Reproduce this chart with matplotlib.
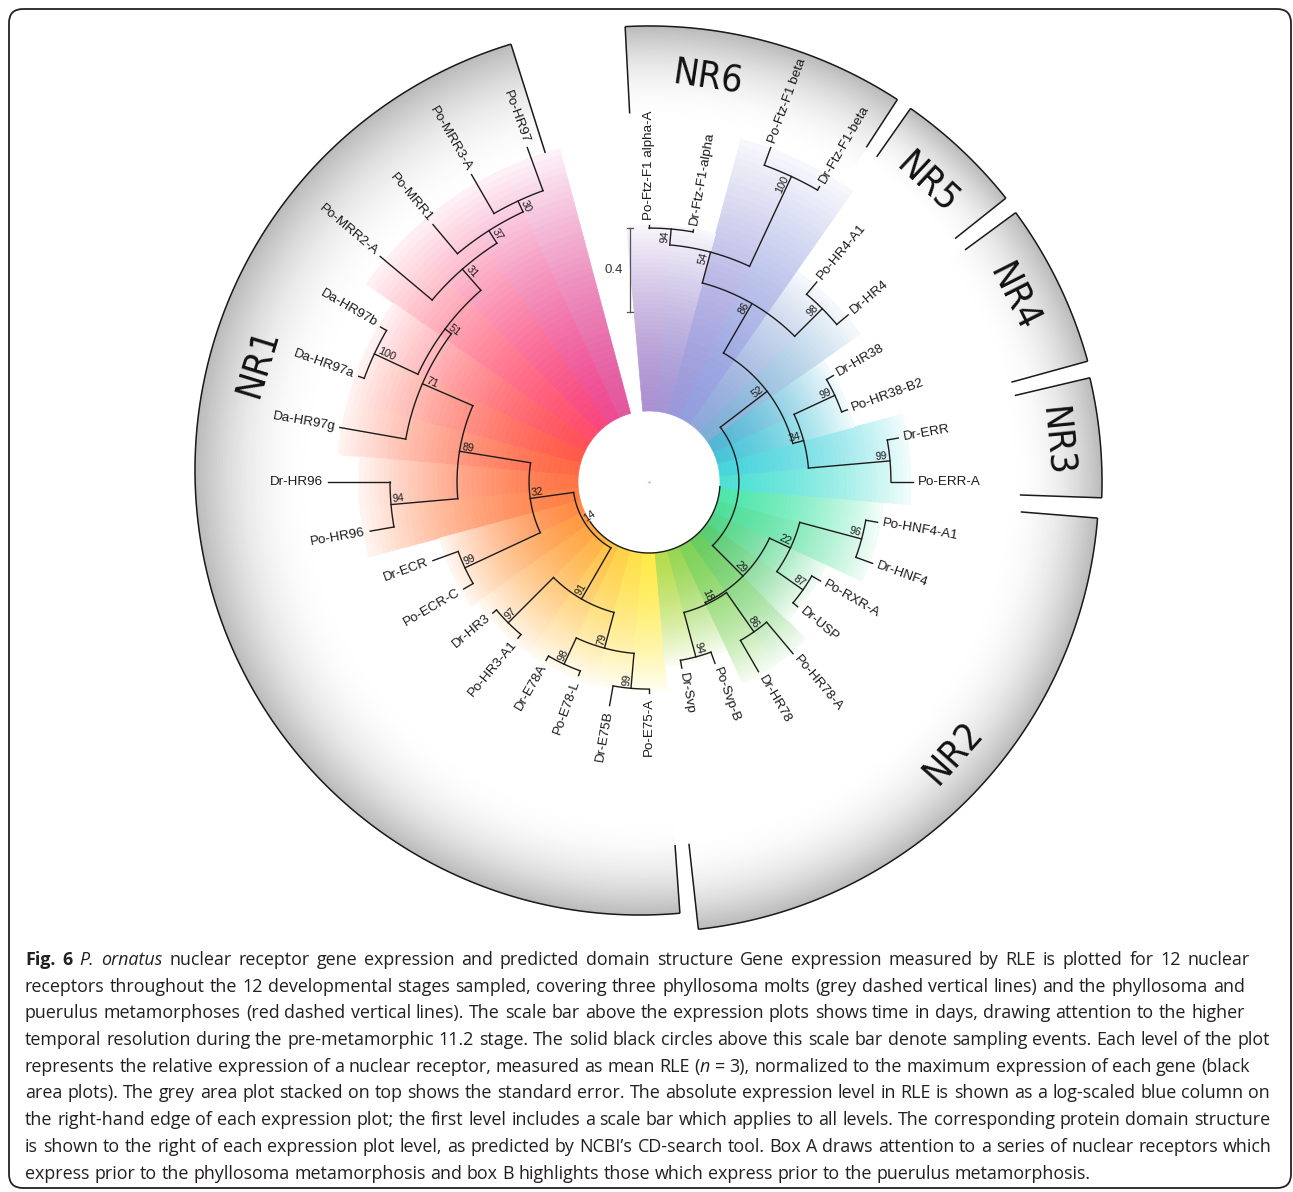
import numpy as np
import matplotlib
matplotlib.use("Agg")
import matplotlib.pyplot as plt
from matplotlib.collections import PolyCollection, LineCollection
from matplotlib.patches import FancyBboxPatch
from matplotlib.colors import to_rgb
from matplotlib import font_manager as fm

# ---------------- data ----------------
leaf_names = ["Po-HR97", "Po-MRR3-A", "Po-MRR1", "Po-MRR2-A", "Da-HR97b", "Da-HR97a", "Da-HR97g",
              "Dr-HR96", "Po-HR96", "Dr-ECR", "Po-ECR-C", "Dr-HR3", "Po-HR3-A1", "Dr-E78A", "Po-E78-L",
              "Dr-E75B", "Po-E75-A", "Dr-Svp", "Po-Svp-B", "Dr-HR78", "Po-HR78-A", "Dr-USP", "Po-RXR-A",
              "Dr-HNF4", "Po-HNF4-A1", "Po-ERR-A", "Dr-ERR", "Po-HR38-B2", "Dr-HR38", "Dr-HR4", "Po-HR4-A1",
              "Dr-Ftz-F1-beta", "Po-Ftz-F1 beta", "Dr-Ftz-F1-alpha", "Po-Ftz-F1 alpha-A"]
# distance from root (substitutions / site)
leaf_depth = [1.357, 1.352, 1.262, 1.333, 1.138, 1.133, 1.157, 1.190, 1.010, 0.757, 0.681, 0.633,
              0.633, 0.643, 0.643, 0.743, 0.667, 0.562, 0.581, 0.705, 0.729, 0.586, 0.605, 0.795,
              0.767, 0.919, 0.867, 0.667, 0.676, 0.900, 0.905, 1.286, 1.357, 0.881, 0.886]
leaf_colors = ["#e4579e", "#ee4a90", "#f8477e", "#ff4d6c", "#ff5058", "#ff5a4a", "#ff6845",
               "#ff7446", "#ff7d44", "#ff8a42", "#ff9840", "#ffa542", "#ffb244", "#ffc246",
               "#ffd248", "#ffe04a", "#ffea48", "#b4dc4c", "#98d650", "#7ed256", "#68cc5e",
               "#58cc72", "#52d688", "#4edf9a", "#4ee6aa", "#4ee0d4", "#48d4dc", "#48c4d8",
               "#52b6d6", "#7eaed6", "#8ea8da", "#929ede", "#9a98da", "#a494d4", "#ac90d0"]

node_names = ["A", "B", "C", "D", "E", "F", "H", "G", "J", "I", "M", "O", "P", "N", "L", "K",
              "Svp", "HR78", "N18", "USP", "HNF", "N22", "R", "ERR", "HR38", "T", "HR4",
              "beta", "alpha", "N54", "U", "S", "Q", "root"]
node_children = [("Po-HR97", "Po-MRR3-A"), ("A", "Po-MRR1"), ("B", "Po-MRR2-A"),
                 ("Da-HR97b", "Da-HR97a"), ("C", "D"), ("E", "Da-HR97g"), ("Dr-HR96", "Po-HR96"),
                 ("F", "H"), ("Dr-ECR", "Po-ECR-C"), ("G", "J"), ("Dr-HR3", "Po-HR3-A1"),
                 ("Dr-E78A", "Po-E78-L"), ("Dr-E75B", "Po-E75-A"), ("O", "P"), ("M", "N"), ("I", "L"),
                 ("Dr-Svp", "Po-Svp-B"), ("Dr-HR78", "Po-HR78-A"), ("Svp", "HR78"),
                 ("Dr-USP", "Po-RXR-A"), ("Dr-HNF4", "Po-HNF4-A1"), ("USP", "HNF"), ("N18", "N22"),
                 ("Po-ERR-A", "Dr-ERR"), ("Po-HR38-B2", "Dr-HR38"), ("ERR", "HR38"),
                 ("Dr-HR4", "Po-HR4-A1"), ("Dr-Ftz-F1-beta", "Po-Ftz-F1 beta"),
                 ("Dr-Ftz-F1-alpha", "Po-Ftz-F1 alpha-A"), ("beta", "alpha"), ("HR4", "N54"),
                 ("T", "U"), ("R", "S"), ("K", "Q")]
node_depth = [1.138, 1.081, 1.010, 1.105, 0.876, 0.838, 0.895, 0.576, 0.629, 0.233, 0.610, 0.619,
              0.648, 0.481, 0.305, 0.024, 0.524, 0.533, 0.305, 0.557, 0.710, 0.405, 0.295, 0.814,
              0.638, 0.424, 0.829, 1.267, 0.871, 0.795, 0.643, 0.371, 0.090, 0.0]
node_support = [30, 37, 31, 100, 51, 71, 94, 89, 99, 32, 97, 98, 99, 79, 91, 14, 94, 86, 18, 87,
                96, 22, 29, 99, 99, 34, 98, 100, 94, 54, 86, 52, None, None]

# coloured ranges: (first leaf, last leaf, outer depth)
range_first = [0, 4, 7, 9, 11, 17, 19, 21, 23, 25, 27, 29, 31, 33]
range_last = [3, 6, 8, 10, 16, 18, 20, 22, 24, 26, 28, 30, 32, 34]
range_depth = [1.305, 1.148, 1.043, 0.695, 0.657, 0.543, 0.719, 0.595, 0.781, 0.910, 0.676, 0.890,
               1.352, 0.886]

# clade boxes
clade_names = ["NR1", "NR2", "NR3", "NR4", "NR5", "NR6"]
clade_start = [107.5, 276.3, 358.0, 375.4, 398.5, 417.0]
clade_end = [274.1, 355.4, 373.3, 396.3, 415.0, 453.0]
clade_in_start = [1.305, 1.395, 1.429, 1.452, 1.524, 1.562]
clade_in_end = [1.395, 1.438, 1.452, 1.529, 1.552, 1.419]
clade_label_angle = [163.0, 318.3, 5.7, 26.8, 47.0, 81.7]

scale_value = 0.4

caption_lines = [
    "**Fig. 6** *P. ornatus* nuclear receptor gene expression and predicted domain structure Gene expression measured by RLE is plotted for 12 nuclear",
    "receptors throughout the 12 developmental stages sampled, covering three phyllosoma molts (grey dashed vertical lines) and the phyllosoma and",
    "puerulus metamorphoses (red dashed vertical lines). The scale bar above the expression plots shows time in days, drawing attention to the higher",
    "temporal resolution during the pre-metamorphic 11.2 stage. The solid black circles above this scale bar denote sampling events. Each level of the plot",
    "represents the relative expression of a nuclear receptor, measured as mean RLE (*n* = 3), normalized to the maximum expression of each gene (black",
    "area plots). The grey area plot stacked on top shows the standard error. The absolute expression level in RLE is shown as a log-scaled blue column on",
    "the right-hand edge of each expression plot; the first level includes a scale bar which applies to all levels. The corresponding protein domain structure",
    "is shown to the right of each expression plot level, as predicted by NCBI\u2019s CD-search tool. Box A draws attention to a series of nuclear receptors which",
    "express prior to the phyllosoma metamorphosis and box B highlights those which express prior to the puerulus metamorphosis.",
]

# ---------------- layout ----------------
W, H = 1293, 1192
CX, CY = 649.0, 482.0
R0 = 71.0
SCALE = 210.0
A0, DA = 110.0, 10.0
# outer arcs of the clade boxes: (centre x, centre y, radius) in pixels
CLADE_ARC = [(640.0, 470.0, 445.0), (CX, CY, 450.0), (CX, CY, 453.0), (CX, CY, 455.0),
             (CX, CY, 456.0), (CX, CY, 456.0)]
CAPTION_RIGHT = [1250, 1245, 1245, 1270, 1250, 1270, 1270, 1272, 1090]

_avail = {f.name for f in fm.fontManager.ttflist}
_cond_dejavu = any(f.name == "DejaVu Sans" and "condensed" in str(f.stretch) for f in fm.fontManager.ttflist)
if "Liberation Sans Narrow" in _avail:
    clade_font = dict(family="Liberation Sans Narrow", fontsize=30)
elif _cond_dejavu:
    clade_font = dict(family="DejaVu Sans", fontstretch="condensed", fontsize=27)
else:
    clade_font = dict(family="Roboto", fontsize=27)

fig = plt.figure(figsize=(W / 100, H / 100), dpi=100)
ax = fig.add_axes([0, 0, 1, 1])
ax.set_xlim(0, W)
ax.set_ylim(H, 0)
ax.axis("off")


def rad(d):
    return R0 + d * SCALE


def pol(r, th):
    t = np.deg2rad(th)
    return CX + r * np.cos(t), CY - r * np.sin(t)


def arc_pts(r, t1, t2, step=0.5):
    n = max(2, int(abs(t2 - t1) / step) + 1)
    th = np.linspace(t1, t2, n)
    x, y = pol(r, th)
    return np.column_stack([x, y])


def sector(r1, r2, t1, t2):
    a = arc_pts(r1, t1, t2)
    b = arc_pts(r2, t2, t1)
    return np.vstack([a, b])


def r_hit(th, ccx, ccy, R):
    t = np.deg2rad(th)
    ux, uy = np.cos(t), -np.sin(t)
    dx, dy = ccx - CX, ccy - CY
    b = ux * dx + uy * dy
    return b + np.sqrt(b * b - (dx * dx + dy * dy) + R * R)


# tree bookkeeping
depth = {}
angle = {}
for i, nm in enumerate(leaf_names):
    depth[nm] = leaf_depth[i]
    angle[nm] = A0 + DA * i
children = {}
for nm, ch, d in zip(node_names, node_children, node_depth):
    children[nm] = ch
    depth[nm] = d


def get_angle(nm):
    if nm in angle:
        return angle[nm]
    a = np.mean([get_angle(c) for c in children[nm]])
    angle[nm] = a
    return a


for nm in node_names:
    get_angle(nm)

# ---- grey clade boxes ----
polys, cols = [], []
box_lines = []
for k in range(6):
    ccx, ccy, R = CLADE_ARC[k]
    rin = rad(min(clade_in_start[k], clade_in_end[k])) - 12
    ths = np.linspace(clade_start[k], clade_end[k], int((clade_end[k] - clade_start[k]) / 1.0) + 2)
    routs = r_hit(ths, ccx, ccy, R)
    N = 40
    for a in range(len(ths) - 1):
        ta, tb = ths[a], ths[a + 1]
        ra, rb = routs[a], routs[a + 1]
        for j in range(N):
            f1, f2 = j / N, (j + 1) / N
            p = [pol(rin + (ra - rin) * f1, ta), pol(rin + (rb - rin) * f1, tb),
                 pol(rin + (rb - rin) * f2, tb), pol(rin + (ra - rin) * f2, ta)]
            t = (j + 0.5) / N
            g = 1 - 0.27 * t ** 2.2
            polys.append(np.array(p))
            cols.append((g, g, g))
    thf = np.linspace(clade_start[k], clade_end[k], 400)
    xs, ys = pol(r_hit(thf, ccx, ccy, R), thf)
    box_lines.append(np.column_stack([xs, ys]))
    box_lines.append(np.array([pol(rad(clade_in_start[k]), clade_start[k]), pol(routs[0], clade_start[k])]))
    box_lines.append(np.array([pol(rad(clade_in_end[k]), clade_end[k]), pol(routs[-1], clade_end[k])]))
ax.add_collection(PolyCollection(polys, facecolors=cols, edgecolors=cols, linewidths=0.6, zorder=1))
ax.add_collection(LineCollection(box_lines, colors="#1a1a1a", linewidths=1.1, zorder=3))

for k in range(6):
    th = clade_label_angle[k]
    x, y = pol(rad(1.605), th)
    thm = th % 360
    rot = thm - 90 if thm <= 180 else thm + 90
    ax.text(x, y, clade_names[k], rotation=rot, rotation_mode="anchor", ha="center", va="center",
            color="#111111", zorder=6, **clade_font)

# ---- coloured gradient wedges ----
polys, cols = [], []
for f, l, d in zip(range_first, range_last, range_depth):
    rout = rad(d)
    rin = R0
    for i in range(f, l + 1):
        base = np.array(to_rgb(leaf_colors[i]))
        t1, t2 = angle[leaf_names[i]] - DA / 2, angle[leaf_names[i]] + DA / 2
        N = 45
        for j in range(N):
            r1 = rin + (rout - rin) * j / N
            r2 = rin + (rout - rin) * (j + 1) / N
            t = (j + 0.5) / N
            fw = 0.93 * t ** 1.5
            c = base * (1 - fw) + fw
            polys.append(sector(r1, r2, t1, t2))
            cols.append(tuple(c))
ax.add_collection(PolyCollection(polys, facecolors=cols, edgecolors=cols, linewidths=0.5, zorder=2))

# ---- tree branches ----
segs = []
for nm in node_names:
    ch = children[nm]
    r = rad(depth[nm])
    angs = [angle[c] for c in ch]
    segs.append(arc_pts(r, min(angs), max(angs), step=0.25))
    if nm == "root":
        continue
    for c in ch:
        segs.append(np.array([pol(r, angle[c]), pol(rad(depth[c]), angle[c])]))
ax.add_collection(LineCollection(segs, colors="#1c1c1c", linewidths=1.0, zorder=4,
                                 capstyle="projecting"))
ax.plot([CX], [CY], marker="o", ms=1.6, color="#ff9a9a", mec="none", zorder=4)

# ---- leaf labels ----
for nm in leaf_names:
    th = angle[nm]
    thm = th % 360
    x, y = pol(rad(depth[nm]) + 5, th)
    if 90 < thm <= 270:
        rot, ha = thm - 180, "right"
    else:
        rot, ha = (thm if thm <= 90 else thm - 360), "left"
    ax.text(x, y, nm, fontsize=9.6, family="Liberation Sans", rotation=rot, rotation_mode="anchor",
            ha=ha, va="center", color="#1a1a1a", zorder=6)

# ---- bootstrap labels ----
for nm, s in zip(node_names, node_support):
    if s is None:
        continue
    th = angle[nm]
    thm = th % 360
    x, y = pol(rad(depth[nm]) - 2, th)
    if 90 < thm <= 270:
        rot, ha = thm - 180, "left"
    else:
        rot, ha = (thm if thm <= 90 else thm - 360), "right"
    ax.text(x, y, str(s), fontsize=7.8, family="Liberation Sans", rotation=rot,
            rotation_mode="anchor", ha=ha, va="bottom", color="#1a1a1a", zorder=6)

# ---- scale bar ----
sx, sy = 630, 228
L = scale_value * SCALE
ax.plot([sx, sx], [sy, sy + L], color="#555555", lw=0.9, zorder=5)
ax.plot([sx - 3, sx + 3], [sy, sy], color="#555555", lw=0.9, zorder=5)
ax.plot([sx - 3, sx + 3], [sy + L, sy + L], color="#555555", lw=0.9, zorder=5)
ax.text(sx - 7, sy + L / 2, str(scale_value), fontsize=9.5, family="Liberation Sans",
        ha="right", va="center", color="#333333", zorder=6)

# ---- caption (justified) ----
renderer = fig.canvas.get_renderer()
cap_family = "Open Sans"


def seg_kw(kind):
    return dict(style="italic" if kind == "italic" else "normal",
                weight="bold" if kind == "bold" else "normal")


def parse(line):
    words, cur, kind, i = [], [], "normal", 0
    buf = ""

    def flush():
        nonlocal buf
        if buf:
            cur.append((buf, kind))
            buf = ""
    while i < len(line):
        if line.startswith("**", i):
            flush()
            kind = "normal" if kind == "bold" else "bold"
            i += 2
            continue
        if line[i] == "*":
            flush()
            kind = "normal" if kind == "italic" else "italic"
            i += 1
            continue
        if line[i] == " ":
            flush()
            if cur:
                words.append(cur)
            cur = []
            i += 1
            continue
        buf += line[i]
        i += 1
    flush()
    if cur:
        words.append(cur)
    return words


def tw(txt, fs, kind="normal"):
    t = ax.text(0, 0, txt, fontsize=fs, family=cap_family, **seg_kw(kind))
    w = t.get_window_extent(renderer=renderer).width
    t.remove()
    return w


def natural_width(words, fs):
    sp = tw("a a", fs) - tw("aa", fs)
    return sum(sum(tw(s, fs, k) for s, k in wd) for wd in words) + sp * (len(words) - 1)


x0, y0, dy = 25.0, 965.0, 26.7
parsed = [parse(line) for line in caption_lines]
fs0 = 12.0
# font size chosen so that the unjustified last line has its natural width
fs = fs0 * (CAPTION_RIGHT[-1] - x0) / natural_width(parsed[-1], fs0)
space = tw("a a", fs) - tw("aa", fs)
for li, words in enumerate(parsed):
    widths = [sum(tw(s, fs, k) for s, k in wd) for wd in words]
    if li < len(parsed) - 1:
        gap = (CAPTION_RIGHT[li] - x0 - sum(widths)) / (len(words) - 1)
        gap = min(max(gap, space * 0.5), space * 1.8)
    else:
        gap = space
    x = x0
    y = y0 + li * dy
    for wd, wdt in zip(words, widths):
        xx = x
        for s, k in wd:
            t = ax.text(xx, y, s, fontsize=fs, family=cap_family, ha="left", va="baseline",
                        color="#231f20", zorder=6, **seg_kw(k))
            xx += t.get_window_extent(renderer=renderer).width
        x += wdt + gap

# ---- border ----
border = FancyBboxPatch((9, 9), 1282, 1179, boxstyle="round,pad=0,rounding_size=14",
                        fc="none", ec="#222222", lw=1.3, zorder=7)
ax.add_patch(border)

fig.savefig("out.png", dpi=100)
